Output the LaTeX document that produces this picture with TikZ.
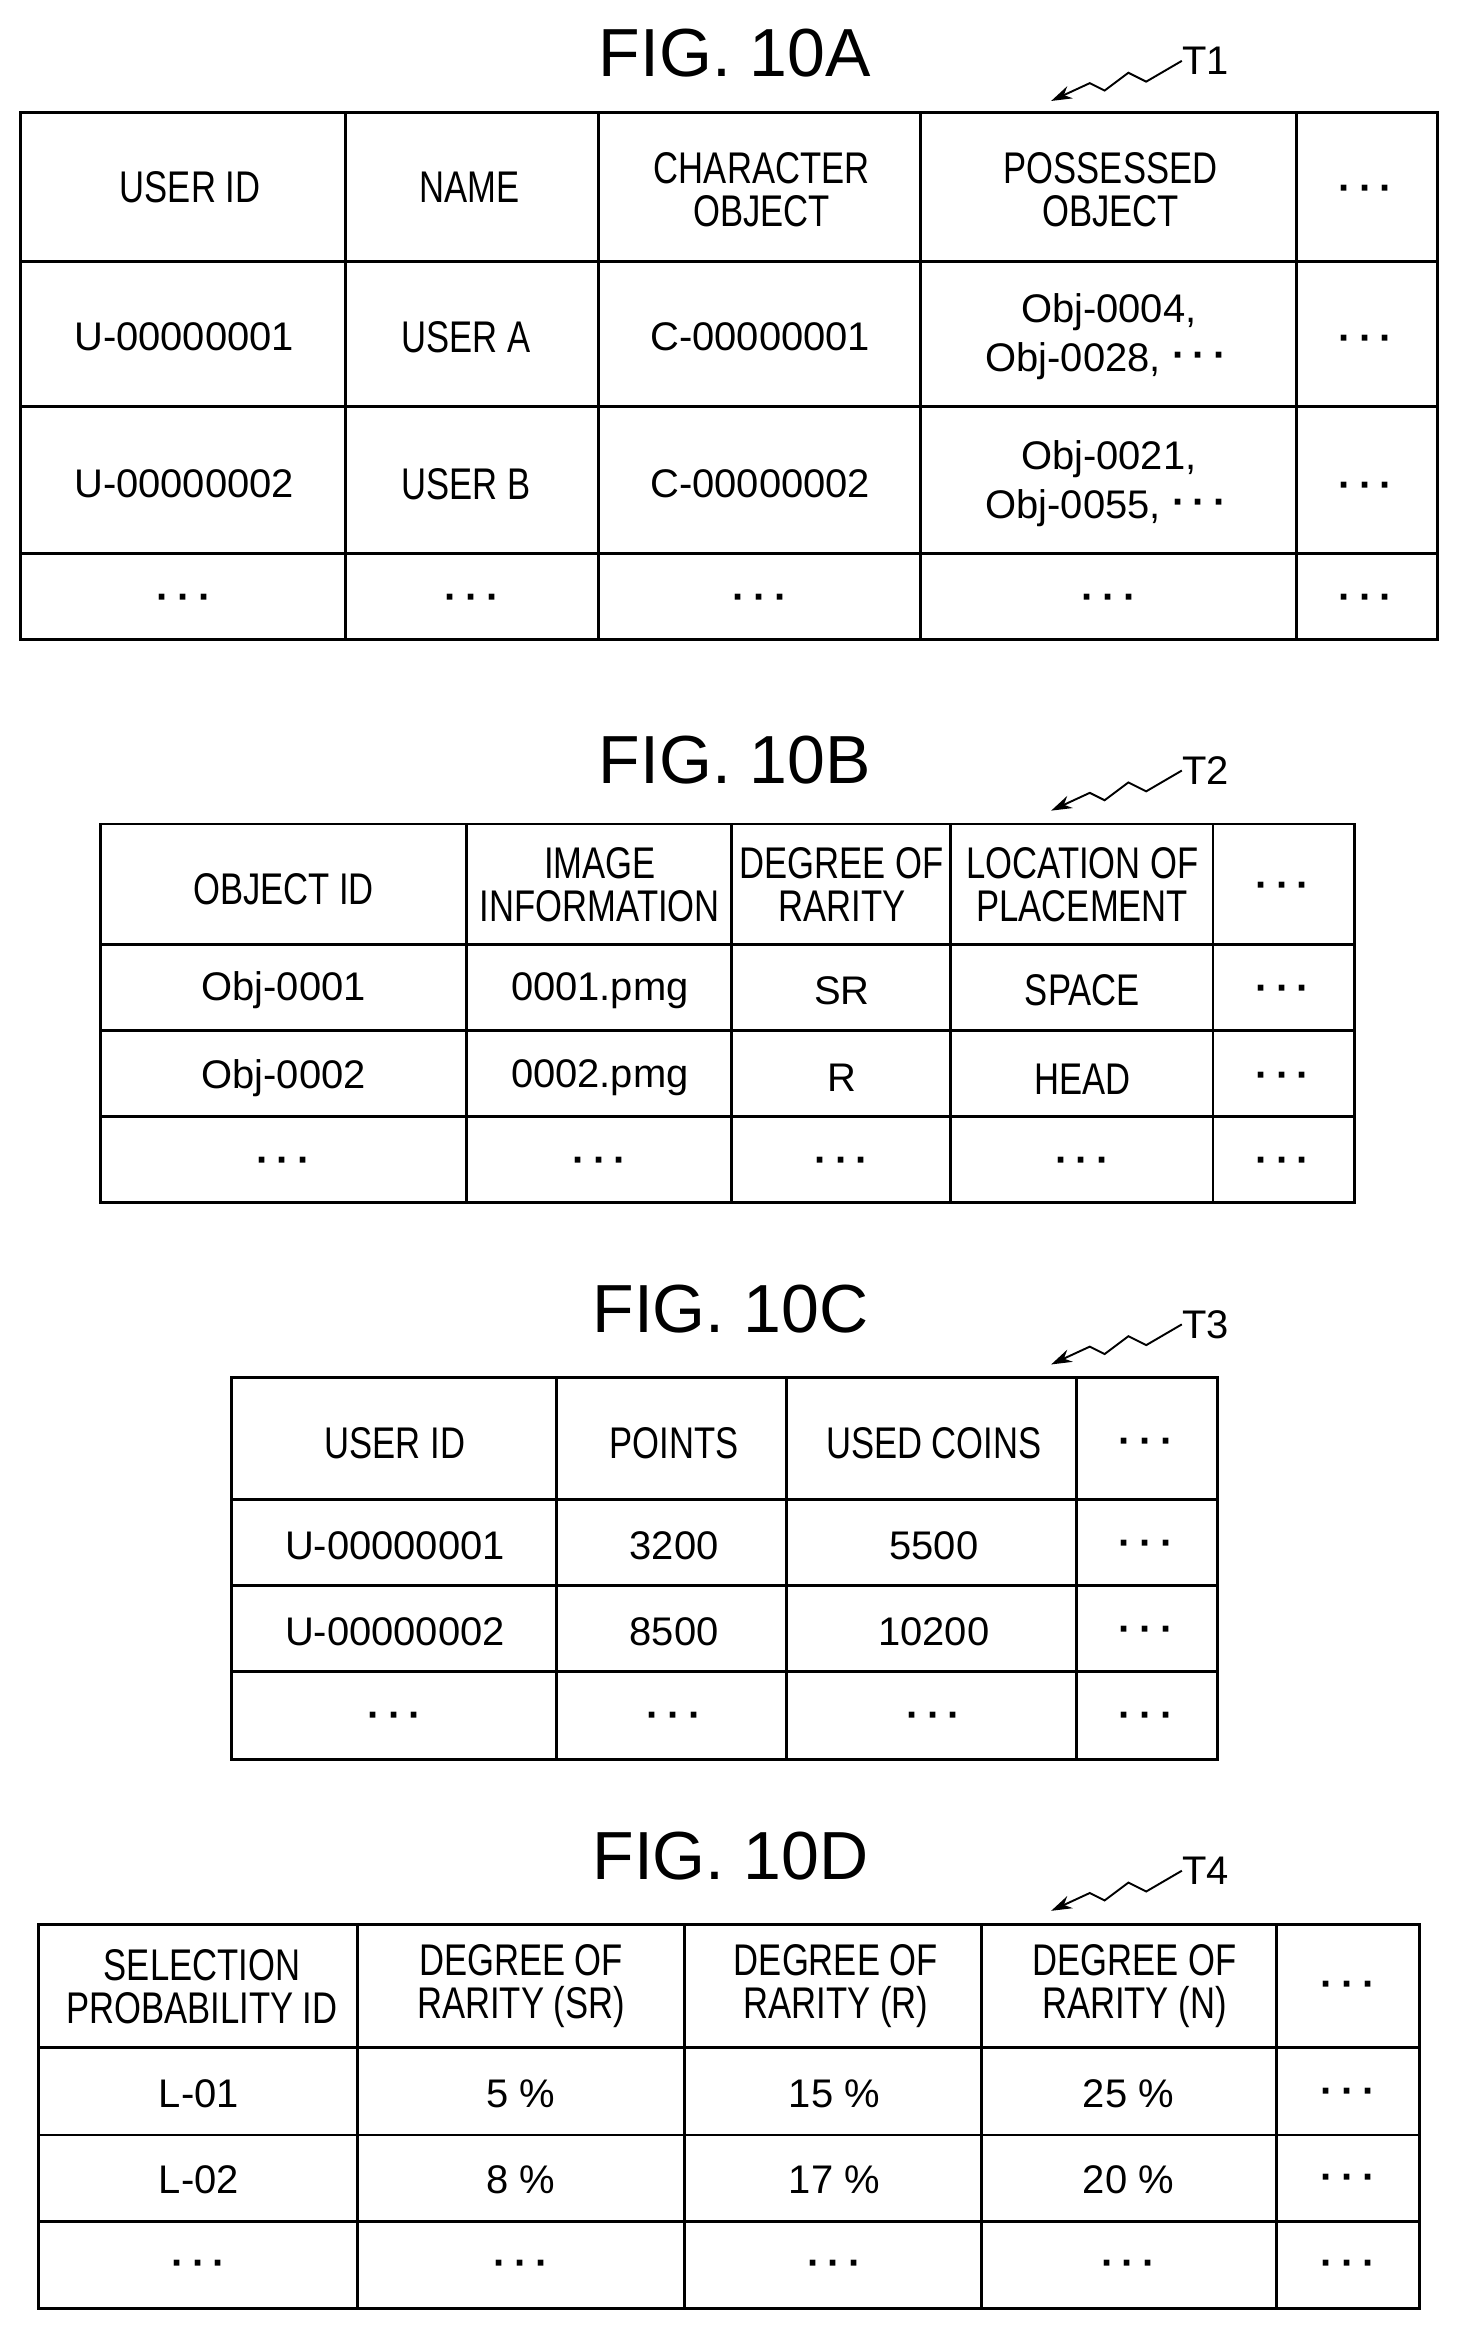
\documentclass[tikz,border=0pt]{standalone}
\usepackage{fontspec}
\setmainfont{Liberation Sans}
\newfontfamily\cond[FakeStretch=0.78]{Liberation Sans}
\usetikzlibrary{arrows.meta}
\newcommand{\dd}{\raisebox{2pt}{\textbf{·\hspace{5pt}·\hspace{5pt}·}}}
\begin{document}
\begin{tikzpicture}[x=1bp,y=-1bp,
  tl/.style={line width=2pt},
  c/.style={font=\fontsize{27}{27}\selectfont,align=center,inner sep=0},
  dt/.style={c,yshift=-5pt},
  h/.style={font=\cond\fontsize{30}{29}\selectfont,align=center,inner sep=0},
  title/.style={font=\fontsize{46}{46}\selectfont,inner sep=0},
  tag/.style={font=\fontsize{27}{27}\selectfont,inner sep=0},
  sq/.style={line width=1.3pt,-{Stealth[length=14pt,width=9pt]}}]
\useasboundingbox (0,0) rectangle (983,1568);
% ---------- Table A
\node[title] (ta) at (495,36) {FIG. 10A};
\draw[tl] (14,76) rectangle (968,431);
\foreach \x in {233,403,620,873} \draw[tl] (\x,76) -- (\x,431);
\foreach \y in {176,274,373} \draw[tl] (14,\y) -- (968,\y);
\node[h] (a11) at (128,126) {USER ID};
\node[h] (a12) at (316,126) {NAME};
\node[h] (a13) at (513,128) {CHARACTER\\OBJECT};
\node[h] (a14) at (748,128) {POSSESSED\\OBJECT};
\node[dt] (a15) at (920,126) {\dd};
\node[c] (a21) at (124,227) {U-00000001};
\node[h] (a22) at (314,227) {USER A};
\node[c] (a23) at (512,227) {C-00000001};
\node[c,align=left] (a24) at (745,227) {\hspace*{24pt}Obj-0004,\\[6pt]Obj-0028, \dd};
\node[dt] (a25) at (920,227) {\dd};
\node[c] (a31) at (124,326) {U-00000002};
\node[h] (a32) at (314,326) {USER B};
\node[c] (a33) at (512,326) {C-00000002};
\node[c,align=left] (a34) at (745,326) {\hspace*{24pt}Obj-0021,\\[6pt]Obj-0055, \dd};
\node[dt] (a35) at (920,326) {\dd};
\foreach \x [count=\i] in {124,318,512,747,920} \node[dt] (a4\i) at (\x,402) {\dd};
\node[tag,anchor=west] (t1) at (796,41) {T1};
\coordinate (t1e) at (708,68);
\draw[sq] (t1.west) -- ++(-24,14) -- ++(-12,-6) -- ++(-16,12) -- ++(-10,-5) -- (t1e);
% ---------- Table B
\node[title] (tb) at (495,512) {FIG. 10B};
\draw[tl] (68,555) rectangle (912,810);
\foreach \x in {314,493,640,817} \draw[tl] (\x,555) -- (\x,810);
\foreach \y in {636,694,752} \draw[tl] (68,\y) -- (912,\y);
\node[h] (b11) at (191,599) {OBJECT ID};
\node[h] (b12) at (404,596) {IMAGE\\INFORMATION};
\node[h] (b13) at (567,596) {DEGREE OF\\RARITY};
\node[h] (b14) at (729,596) {LOCATION OF\\PLACEMENT};
\node[dt] (b15) at (864,596) {\dd};
\node[c] (b21) at (191,667) {Obj-0001};
\node[c] (b22) at (404,667) {0001.pmg};
\node[c] (b23) at (567,667) {SR};
\node[h] (b24) at (729,667) {SPACE};
\node[dt] (b25) at (864,665) {\dd};
\node[c] (b31) at (191,726) {Obj-0002};
\node[c] (b32) at (404,726) {0002.pmg};
\node[c] (b33) at (567,726) {R};
\node[h] (b34) at (729,727) {HEAD};
\node[dt] (b35) at (864,724) {\dd};
\foreach \x [count=\i] in {191,404,567,729,864} \node[dt] (b4\i) at (\x,781) {\dd};
\node[tag,anchor=west] (t2) at (796,519) {T2};
\coordinate (t2e) at (708,546);
\draw[sq] (t2.west) -- ++(-24,14) -- ++(-12,-6) -- ++(-16,12) -- ++(-10,-5) -- (t2e);
% ---------- Table C
\node[title] (tc) at (492,882) {FIG. 10C};
\draw[tl] (156,928) rectangle (820,1185);
\foreach \x in {375,530,725} \draw[tl] (\x,928) -- (\x,1185);
\foreach \y in {1010,1068,1126} \draw[tl] (156,\y) -- (820,\y);
\node[h] (c11) at (266,972) {USER ID};
\node[h] (c12) at (454,972) {POINTS};
\node[h] (c13) at (629,972) {USED COINS};
\node[dt] (c14) at (772,970) {\dd};
\node[c] (c21) at (266,1041) {U-00000001};
\node[c] (c22) at (454,1041) {3200};
\node[c] (c23) at (629,1041) {5500};
\node[dt] (c24) at (772,1039) {\dd};
\node[c] (c31) at (266,1099) {U-00000002};
\node[c] (c32) at (454,1099) {8500};
\node[c] (c33) at (629,1099) {10200};
\node[dt] (c34) at (772,1097) {\dd};
\foreach \x [count=\i] in {266,454,629,772} \node[dt] (c4\i) at (\x,1155) {\dd};
\node[tag,anchor=west] (t3) at (796,892) {T3};
\coordinate (t3e) at (708,919);
\draw[sq] (t3.west) -- ++(-24,14) -- ++(-12,-6) -- ++(-16,12) -- ++(-10,-5) -- (t3e);
% ---------- Table D
\node[title] (td) at (492,1250) {FIG. 10D};
\draw[tl] (26,1296) rectangle (956,1555);
\foreach \x in {241,461,661,860} \draw[tl] (\x,1296) -- (\x,1555);
\foreach \y in {1379,1438,1496} \draw[tl] (26,\y) -- (956,\y);
\node[h] (d11) at (136,1338) {SELECTION\\PROBABILITY ID};
\node[h] (d12) at (351,1338) {DEGREE OF\\RARITY (SR)};
\node[h] (d13) at (563,1338) {DEGREE OF\\RARITY (R)};
\node[h] (d14) at (764,1338) {DEGREE OF\\RARITY (N)};
\node[dt] (d15) at (908,1336) {\dd};
\node[c] (d21) at (134,1410) {L-01};
\node[c] (d22) at (351,1410) {5 \%};
\node[c] (d23) at (562,1410) {15 \%};
\node[c] (d24) at (760,1410) {25 \%};
\node[dt] (d25) at (908,1408) {\dd};
\node[c] (d31) at (134,1468) {L-02};
\node[c] (d32) at (351,1468) {8 \%};
\node[c] (d33) at (562,1468) {17 \%};
\node[c] (d34) at (760,1468) {20 \%};
\node[dt] (d35) at (908,1466) {\dd};
\foreach \x [count=\i] in {134,351,562,760,908} \node[dt] (d4\i) at (\x,1524) {\dd};
\node[tag,anchor=west] (t4) at (796,1260) {T4};
\coordinate (t4e) at (708,1287);
\draw[sq] (t4.west) -- ++(-24,14) -- ++(-12,-6) -- ++(-16,12) -- ++(-10,-5) -- (t4e);
\end{tikzpicture}
\end{document}
